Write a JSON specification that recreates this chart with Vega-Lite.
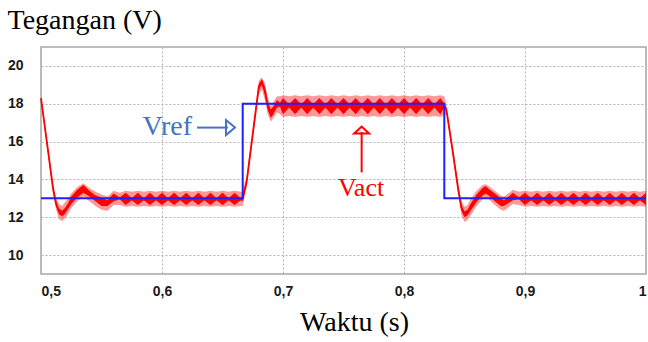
{
  "$schema": "https://vega.github.io/schema/vega-lite/v6.json",
  "width": 605,
  "height": 227,
  "autosize": {"type": "none"},
  "padding": {"left": 41, "top": 47, "right": 2, "bottom": 68},
  "config": {
    "view": {"stroke": "#a6a6a6", "strokeWidth": 1.5},
    "axis": {
      "grid": true, "gridDash": [2, 2], "gridColor": "#b3b3b3", "gridWidth": 1,
      "ticks": false, "domain": false,
      "labelFont": "Liberation Sans", "labelFontWeight": "bold", "labelFontSize": 14, "labelColor": "#1a1a1a",
      "labelOverlap": false, "labelBound": false,
      "titleFont": "Liberation Serif", "titleFontSize": 28, "titleFontWeight": "normal", "titleColor": "#000000"
    }
  },
  "datasets": {
    "vact": [
      {"t":0.5,"c":18.3,"lo":18.1,"hi":18.4,"rlo":18.2,"rhi":18.35},
      {"t":0.505,"c":15.9,"lo":15.7,"hi":16.1,"rlo":15.8,"rhi":16.0},
      {"t":0.51,"c":13.5,"lo":13.2,"hi":13.8,"rlo":13.4,"rhi":13.6},
      {"t":0.5125,"c":12.7,"lo":12.4,"hi":13.0,"rlo":12.6,"rhi":12.8},
      {"t":0.515,"c":12.3,"lo":11.9,"hi":12.7,"rlo":12.15,"rhi":12.45},
      {"t":0.5175,"c":12.2,"lo":11.8,"hi":12.6,"rlo":12.05,"rhi":12.35},
      {"t":0.52,"c":12.35,"lo":11.95,"hi":12.8,"rlo":12.2,"rhi":12.5},
      {"t":0.5225,"c":12.6,"lo":12.2,"hi":13.0,"rlo":12.45,"rhi":12.75},
      {"t":0.525,"c":12.9,"lo":12.5,"hi":13.25,"rlo":12.7,"rhi":13.1},
      {"t":0.53,"c":13.25,"lo":12.85,"hi":13.6,"rlo":13.05,"rhi":13.45},
      {"t":0.535,"c":13.5,"lo":13.1,"hi":13.8,"rlo":13.3,"rhi":13.7},
      {"t":0.54,"c":13.25,"lo":12.85,"hi":13.55,"rlo":13.1,"rhi":13.4},
      {"t":0.545,"c":13.0,"lo":12.6,"hi":13.35,"rlo":12.85,"rhi":13.15},
      {"t":0.55,"c":12.8,"lo":12.4,"hi":13.2,"rlo":12.6,"rhi":13.05},
      {"t":0.555,"c":12.75,"lo":12.35,"hi":13.1,"rlo":12.6,"rhi":12.9},
      {"t":0.56,"c":13.05,"lo":12.65,"hi":13.4,"rlo":12.85,"rhi":13.25},
      {"t":0.565,"c":13.0,"lo":12.65,"hi":13.3,"rlo":12.95,"rhi":13.05},
      {"t":0.57,"c":12.95,"lo":12.55,"hi":13.4,"rlo":12.65,"rhi":13.3},
      {"t":0.575,"c":12.95,"lo":12.6,"hi":13.35,"rlo":12.9,"rhi":13.0},
      {"t":0.58,"c":12.95,"lo":12.55,"hi":13.4,"rlo":12.65,"rhi":13.3},
      {"t":0.585,"c":12.95,"lo":12.6,"hi":13.35,"rlo":12.9,"rhi":13.0},
      {"t":0.59,"c":12.95,"lo":12.55,"hi":13.4,"rlo":12.65,"rhi":13.3},
      {"t":0.595,"c":12.95,"lo":12.6,"hi":13.35,"rlo":12.9,"rhi":13.0},
      {"t":0.6,"c":12.95,"lo":12.55,"hi":13.4,"rlo":12.65,"rhi":13.3},
      {"t":0.605,"c":12.95,"lo":12.6,"hi":13.35,"rlo":12.9,"rhi":13.0},
      {"t":0.61,"c":12.95,"lo":12.55,"hi":13.4,"rlo":12.65,"rhi":13.3},
      {"t":0.615,"c":12.95,"lo":12.6,"hi":13.35,"rlo":12.9,"rhi":13.0},
      {"t":0.62,"c":12.95,"lo":12.55,"hi":13.4,"rlo":12.65,"rhi":13.3},
      {"t":0.625,"c":12.95,"lo":12.6,"hi":13.35,"rlo":12.9,"rhi":13.0},
      {"t":0.63,"c":12.95,"lo":12.55,"hi":13.4,"rlo":12.65,"rhi":13.3},
      {"t":0.635,"c":12.95,"lo":12.6,"hi":13.35,"rlo":12.9,"rhi":13.0},
      {"t":0.64,"c":12.95,"lo":12.55,"hi":13.4,"rlo":12.65,"rhi":13.3},
      {"t":0.645,"c":12.95,"lo":12.6,"hi":13.35,"rlo":12.9,"rhi":13.0},
      {"t":0.65,"c":12.95,"lo":12.55,"hi":13.4,"rlo":12.65,"rhi":13.3},
      {"t":0.655,"c":12.95,"lo":12.6,"hi":13.35,"rlo":12.9,"rhi":13.0},
      {"t":0.66,"c":12.95,"lo":12.55,"hi":13.4,"rlo":12.65,"rhi":13.3},
      {"t":0.665,"c":12.95,"lo":12.6,"hi":13.35,"rlo":12.9,"rhi":13.0},
      {"t":0.6667,"c":13.0,"lo":12.6,"hi":13.35,"rlo":12.85,"rhi":13.15},
      {"t":0.67,"c":13.9,"lo":13.6,"hi":14.2,"rlo":13.8,"rhi":14.0},
      {"t":0.675,"c":16.4,"lo":16.1,"hi":16.7,"rlo":16.3,"rhi":16.5},
      {"t":0.68,"c":18.9,"lo":18.5,"hi":19.2,"rlo":18.75,"rhi":19.05},
      {"t":0.6825,"c":19.15,"lo":18.75,"hi":19.4,"rlo":19.0,"rhi":19.3},
      {"t":0.685,"c":18.7,"lo":18.2,"hi":19.1,"rlo":18.5,"rhi":18.9},
      {"t":0.6875,"c":17.85,"lo":17.4,"hi":18.3,"rlo":17.65,"rhi":18.05},
      {"t":0.69,"c":17.45,"lo":17.05,"hi":17.9,"rlo":17.25,"rhi":17.7},
      {"t":0.6925,"c":17.7,"lo":17.3,"hi":18.15,"rlo":17.5,"rhi":17.9},
      {"t":0.695,"c":18.0,"lo":17.55,"hi":18.4,"rlo":17.8,"rhi":18.2},
      {"t":0.6975,"c":17.95,"lo":17.45,"hi":18.4,"rlo":17.85,"rhi":18.05},
      {"t":0.7,"c":17.88,"lo":17.3,"hi":18.45,"rlo":17.45,"rhi":18.3},
      {"t":0.705,"c":17.88,"lo":17.35,"hi":18.4,"rlo":17.8,"rhi":17.96},
      {"t":0.71,"c":17.88,"lo":17.3,"hi":18.45,"rlo":17.45,"rhi":18.3},
      {"t":0.715,"c":17.88,"lo":17.35,"hi":18.4,"rlo":17.8,"rhi":17.96},
      {"t":0.72,"c":17.88,"lo":17.3,"hi":18.45,"rlo":17.45,"rhi":18.3},
      {"t":0.725,"c":17.88,"lo":17.35,"hi":18.4,"rlo":17.8,"rhi":17.96},
      {"t":0.73,"c":17.88,"lo":17.3,"hi":18.45,"rlo":17.45,"rhi":18.3},
      {"t":0.735,"c":17.88,"lo":17.35,"hi":18.4,"rlo":17.8,"rhi":17.96},
      {"t":0.74,"c":17.88,"lo":17.3,"hi":18.45,"rlo":17.45,"rhi":18.3},
      {"t":0.745,"c":17.88,"lo":17.35,"hi":18.4,"rlo":17.8,"rhi":17.96},
      {"t":0.75,"c":17.88,"lo":17.3,"hi":18.45,"rlo":17.45,"rhi":18.3},
      {"t":0.755,"c":17.88,"lo":17.35,"hi":18.4,"rlo":17.8,"rhi":17.96},
      {"t":0.76,"c":17.88,"lo":17.3,"hi":18.45,"rlo":17.45,"rhi":18.3},
      {"t":0.765,"c":17.88,"lo":17.35,"hi":18.4,"rlo":17.8,"rhi":17.96},
      {"t":0.77,"c":17.88,"lo":17.3,"hi":18.45,"rlo":17.45,"rhi":18.3},
      {"t":0.775,"c":17.88,"lo":17.35,"hi":18.4,"rlo":17.8,"rhi":17.96},
      {"t":0.78,"c":17.88,"lo":17.3,"hi":18.45,"rlo":17.45,"rhi":18.3},
      {"t":0.785,"c":17.88,"lo":17.35,"hi":18.4,"rlo":17.8,"rhi":17.96},
      {"t":0.79,"c":17.88,"lo":17.3,"hi":18.45,"rlo":17.45,"rhi":18.3},
      {"t":0.795,"c":17.88,"lo":17.35,"hi":18.4,"rlo":17.8,"rhi":17.96},
      {"t":0.8,"c":17.88,"lo":17.3,"hi":18.45,"rlo":17.45,"rhi":18.3},
      {"t":0.805,"c":17.88,"lo":17.35,"hi":18.4,"rlo":17.8,"rhi":17.96},
      {"t":0.81,"c":17.88,"lo":17.3,"hi":18.45,"rlo":17.45,"rhi":18.3},
      {"t":0.815,"c":17.88,"lo":17.35,"hi":18.4,"rlo":17.8,"rhi":17.96},
      {"t":0.82,"c":17.88,"lo":17.3,"hi":18.45,"rlo":17.45,"rhi":18.3},
      {"t":0.825,"c":17.88,"lo":17.35,"hi":18.4,"rlo":17.8,"rhi":17.96},
      {"t":0.83,"c":17.88,"lo":17.3,"hi":18.45,"rlo":17.45,"rhi":18.3},
      {"t":0.8333,"c":17.9,"lo":17.4,"hi":18.4,"rlo":17.8,"rhi":18.0},
      {"t":0.835,"c":17.7,"lo":17.45,"hi":17.95,"rlo":17.6,"rhi":17.8},
      {"t":0.84,"c":15.6,"lo":15.35,"hi":15.85,"rlo":15.5,"rhi":15.7},
      {"t":0.845,"c":13.4,"lo":13.1,"hi":13.7,"rlo":13.3,"rhi":13.5},
      {"t":0.8475,"c":12.5,"lo":12.1,"hi":12.85,"rlo":12.35,"rhi":12.65},
      {"t":0.85,"c":12.15,"lo":11.75,"hi":12.55,"rlo":12.0,"rhi":12.3},
      {"t":0.8525,"c":12.25,"lo":11.85,"hi":12.65,"rlo":12.1,"rhi":12.4},
      {"t":0.855,"c":12.5,"lo":12.1,"hi":12.95,"rlo":12.35,"rhi":12.7},
      {"t":0.86,"c":13.0,"lo":12.6,"hi":13.4,"rlo":12.8,"rhi":13.2},
      {"t":0.865,"c":13.35,"lo":12.95,"hi":13.7,"rlo":13.15,"rhi":13.55},
      {"t":0.8675,"c":13.45,"lo":13.05,"hi":13.75,"rlo":13.25,"rhi":13.65},
      {"t":0.87,"c":13.35,"lo":12.95,"hi":13.65,"rlo":13.15,"rhi":13.5},
      {"t":0.875,"c":13.05,"lo":12.65,"hi":13.4,"rlo":12.85,"rhi":13.25},
      {"t":0.88,"c":12.8,"lo":12.4,"hi":13.15,"rlo":12.6,"rhi":13.0},
      {"t":0.8825,"c":12.75,"lo":12.35,"hi":13.1,"rlo":12.6,"rhi":12.9},
      {"t":0.885,"c":12.85,"lo":12.45,"hi":13.2,"rlo":12.7,"rhi":13.0},
      {"t":0.89,"c":13.1,"lo":12.7,"hi":13.45,"rlo":12.9,"rhi":13.3},
      {"t":0.895,"c":13.0,"lo":12.65,"hi":13.35,"rlo":12.95,"rhi":13.05},
      {"t":0.9,"c":12.95,"lo":12.55,"hi":13.4,"rlo":12.65,"rhi":13.3},
      {"t":0.905,"c":12.95,"lo":12.6,"hi":13.35,"rlo":12.9,"rhi":13.0},
      {"t":0.91,"c":12.95,"lo":12.55,"hi":13.4,"rlo":12.65,"rhi":13.3},
      {"t":0.915,"c":12.95,"lo":12.6,"hi":13.35,"rlo":12.9,"rhi":13.0},
      {"t":0.92,"c":12.95,"lo":12.55,"hi":13.4,"rlo":12.65,"rhi":13.3},
      {"t":0.925,"c":12.95,"lo":12.6,"hi":13.35,"rlo":12.9,"rhi":13.0},
      {"t":0.93,"c":12.95,"lo":12.55,"hi":13.4,"rlo":12.65,"rhi":13.3},
      {"t":0.935,"c":12.95,"lo":12.6,"hi":13.35,"rlo":12.9,"rhi":13.0},
      {"t":0.94,"c":12.95,"lo":12.55,"hi":13.4,"rlo":12.65,"rhi":13.3},
      {"t":0.945,"c":12.95,"lo":12.6,"hi":13.35,"rlo":12.9,"rhi":13.0},
      {"t":0.95,"c":12.95,"lo":12.55,"hi":13.4,"rlo":12.65,"rhi":13.3},
      {"t":0.955,"c":12.95,"lo":12.6,"hi":13.35,"rlo":12.9,"rhi":13.0},
      {"t":0.96,"c":12.95,"lo":12.55,"hi":13.4,"rlo":12.65,"rhi":13.3},
      {"t":0.965,"c":12.95,"lo":12.6,"hi":13.35,"rlo":12.9,"rhi":13.0},
      {"t":0.97,"c":12.95,"lo":12.55,"hi":13.4,"rlo":12.65,"rhi":13.3},
      {"t":0.975,"c":12.95,"lo":12.6,"hi":13.35,"rlo":12.9,"rhi":13.0},
      {"t":0.98,"c":12.95,"lo":12.55,"hi":13.4,"rlo":12.65,"rhi":13.3},
      {"t":0.985,"c":12.95,"lo":12.6,"hi":13.35,"rlo":12.9,"rhi":13.0},
      {"t":0.99,"c":12.95,"lo":12.55,"hi":13.4,"rlo":12.65,"rhi":13.3},
      {"t":0.995,"c":12.95,"lo":12.6,"hi":13.35,"rlo":12.9,"rhi":13.0},
      {"t":1.0,"c":12.95,"lo":12.55,"hi":13.4,"rlo":12.65,"rhi":13.3}
    ],
    "vref": [
      {"t":0.5,"v":13},
      {"t":0.6667,"v":13},
      {"t":0.6667,"v":18},
      {"t":0.8333,"v":18},
      {"t":0.8333,"v":13},
      {"t":1.0,"v":13}
    ]
  },
  "layer": [
    {
      "data": {"name": "vact"},
      "mark": {"type": "area", "color": "#ff0000", "opacity": 0.4},
      "encoding": {
        "x": {"field": "t", "type": "quantitative",
              "scale": {"domain": [0.5, 1], "nice": false, "zero": false},
              "axis": {"values": [0.5, 0.6, 0.7, 0.8, 0.9, 1],
                       "labelExpr": "replace(format(datum.value, '.1~f'), '.', ',')",
                       "labelPadding": 10,
                       "title": "Waktu (s)", "titleX": 313, "titleY": 56,
                       "titleBaseline": "alphabetic", "titleAlign": "center"}},
        "y": {"field": "lo", "type": "quantitative",
              "scale": {"domain": [9, 21], "nice": false, "zero": false},
              "axis": {"values": [10, 12, 14, 16, 18, 20], "labelPadding": 18,
                       "title": "Tegangan (V)", "titleAngle": 0, "titleAlign": "left",
                       "titleX": -34, "titleY": -19, "titleBaseline": "alphabetic"}},
        "y2": {"field": "hi"}
      }
    },
    {
      "data": {"name": "vact"},
      "mark": {"type": "area", "color": "#ff0000", "opacity": 1},
      "encoding": {
        "x": {"field": "t", "type": "quantitative"},
        "y": {"field": "rlo", "type": "quantitative"},
        "y2": {"field": "rhi"}
      }
    },
    {
      "data": {"name": "vact"},
      "mark": {"type": "line", "color": "#ff0000", "strokeWidth": 1.8},
      "encoding": {
        "x": {"field": "t", "type": "quantitative"},
        "y": {"field": "c", "type": "quantitative"}
      }
    },
    {
      "data": {"name": "vref"},
      "mark": {"type": "line", "color": "#1f1fff", "strokeWidth": 2},
      "encoding": {
        "x": {"field": "t", "type": "quantitative"},
        "y": {"field": "v", "type": "quantitative"}
      }
    },
    {
      "data": {"values": [{"t": 0.6248, "v": 16.37, "label": "Vref"}]},
      "mark": {"type": "text", "font": "Liberation Serif", "fontSize": 28, "color": "#4472c4", "align": "right", "baseline": "alphabetic"},
      "encoding": {
        "x": {"field": "t", "type": "quantitative"},
        "y": {"field": "v", "type": "quantitative"},
        "text": {"field": "label"}
      }
    },
    {
      "data": {"values": [{"t1": 0.6289, "t2": 0.6545, "v": 16.74}]},
      "mark": {"type": "rule", "color": "#4472c4", "strokeWidth": 2},
      "encoding": {
        "x": {"field": "t1", "type": "quantitative"},
        "x2": {"field": "t2"},
        "y": {"field": "v", "type": "quantitative"}
      }
    },
    {
      "data": {"values": [{"t": 0.6566, "v": 16.74}]},
      "mark": {"type": "point", "shape": "M-0.6,-1L0.6,0L-0.6,1Z", "size": 225, "filled": false, "color": "#4472c4", "strokeWidth": 2, "opacity": 1},
      "encoding": {
        "x": {"field": "t", "type": "quantitative"},
        "y": {"field": "v", "type": "quantitative"}
      }
    },
    {
      "data": {"values": [{"t": 0.7645, "v": 13.1, "label": "Vact"}]},
      "mark": {"type": "text", "font": "Liberation Serif", "fontSize": 26, "color": "#ff0000", "align": "center", "baseline": "alphabetic"},
      "encoding": {
        "x": {"field": "t", "type": "quantitative"},
        "y": {"field": "v", "type": "quantitative"},
        "text": {"field": "label"}
      }
    },
    {
      "data": {"values": [{"t": 0.765, "v1": 14.37, "v2": 16.5}]},
      "mark": {"type": "rule", "color": "#ff0000", "strokeWidth": 2},
      "encoding": {
        "x": {"field": "t", "type": "quantitative"},
        "y": {"field": "v1", "type": "quantitative"},
        "y2": {"field": "v2"}
      }
    },
    {
      "data": {"values": [{"t": 0.765, "v": 16.61}]},
      "mark": {"type": "point", "shape": "M-1,0.47L0,-0.47L1,0.47Z", "size": 225, "filled": false, "color": "#ff0000", "strokeWidth": 2, "opacity": 1},
      "encoding": {
        "x": {"field": "t", "type": "quantitative"},
        "y": {"field": "v", "type": "quantitative"}
      }
    }
  ]
}
